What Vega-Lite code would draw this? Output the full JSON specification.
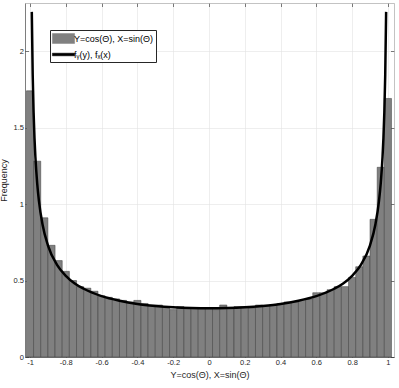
{
  "$schema": "https://vega.github.io/schema/vega-lite/v6.json",
  "width": 369,
  "height": 354,
  "autosize": {"type": "none"},
  "padding": {"left": 25, "top": 3, "right": 5, "bottom": 31},
  "background": "white",
  "config": {
    "view": {"stroke": null},
    "font": "Liberation Sans",
    "axis": {"labelFont": "Liberation Sans", "titleFont": "Liberation Sans", "labelColor": "#262626", "titleColor": "#262626", "titleFontWeight": "normal", "gridColor": "#e3e3e3", "gridWidth": 0.6, "domainColor": "#262626", "domainWidth": 0.6, "tickColor": "#262626", "tickWidth": 0.6},
    "legend": {"orient": "none", "legendX": 25, "legendY": 27, "title": null, "padding": 2, "symbolSize": 144, "symbolOffset": 5, "labelOffset": 4, "rowPadding": 3,
      "fillColor": "white", "strokeColor": "#262626", "labelFont": "Liberation Sans", "labelFontSize": 9, "labelColor": "#000000", "labelLimit": 300}
  },
  "datasets": {
    "hist": [
      {"bin_start": -1.02, "bin_end": -0.98, "frequency": 1.74},
      {"bin_start": -0.98, "bin_end": -0.94, "frequency": 1.28},
      {"bin_start": -0.94, "bin_end": -0.90, "frequency": 0.91},
      {"bin_start": -0.90, "bin_end": -0.86, "frequency": 0.73},
      {"bin_start": -0.86, "bin_end": -0.82, "frequency": 0.63},
      {"bin_start": -0.82, "bin_end": -0.78, "frequency": 0.56},
      {"bin_start": -0.78, "bin_end": -0.74, "frequency": 0.50},
      {"bin_start": -0.74, "bin_end": -0.70, "frequency": 0.46},
      {"bin_start": -0.70, "bin_end": -0.66, "frequency": 0.45},
      {"bin_start": -0.66, "bin_end": -0.62, "frequency": 0.43},
      {"bin_start": -0.62, "bin_end": -0.58, "frequency": 0.40},
      {"bin_start": -0.58, "bin_end": -0.54, "frequency": 0.39},
      {"bin_start": -0.54, "bin_end": -0.50, "frequency": 0.38},
      {"bin_start": -0.50, "bin_end": -0.46, "frequency": 0.37},
      {"bin_start": -0.46, "bin_end": -0.42, "frequency": 0.36},
      {"bin_start": -0.42, "bin_end": -0.38, "frequency": 0.37},
      {"bin_start": -0.38, "bin_end": -0.34, "frequency": 0.35},
      {"bin_start": -0.34, "bin_end": -0.30, "frequency": 0.34},
      {"bin_start": -0.30, "bin_end": -0.26, "frequency": 0.34},
      {"bin_start": -0.26, "bin_end": -0.22, "frequency": 0.33},
      {"bin_start": -0.22, "bin_end": -0.18, "frequency": 0.31},
      {"bin_start": -0.18, "bin_end": -0.14, "frequency": 0.33},
      {"bin_start": -0.14, "bin_end": -0.10, "frequency": 0.32},
      {"bin_start": -0.10, "bin_end": -0.06, "frequency": 0.32},
      {"bin_start": -0.06, "bin_end": -0.02, "frequency": 0.32},
      {"bin_start": -0.02, "bin_end": 0.02, "frequency": 0.32},
      {"bin_start": 0.02, "bin_end": 0.06, "frequency": 0.31},
      {"bin_start": 0.06, "bin_end": 0.10, "frequency": 0.34},
      {"bin_start": 0.10, "bin_end": 0.14, "frequency": 0.32},
      {"bin_start": 0.14, "bin_end": 0.18, "frequency": 0.33},
      {"bin_start": 0.18, "bin_end": 0.22, "frequency": 0.33},
      {"bin_start": 0.22, "bin_end": 0.26, "frequency": 0.32},
      {"bin_start": 0.26, "bin_end": 0.30, "frequency": 0.34},
      {"bin_start": 0.30, "bin_end": 0.34, "frequency": 0.33},
      {"bin_start": 0.34, "bin_end": 0.38, "frequency": 0.34},
      {"bin_start": 0.38, "bin_end": 0.42, "frequency": 0.35},
      {"bin_start": 0.42, "bin_end": 0.46, "frequency": 0.36},
      {"bin_start": 0.46, "bin_end": 0.50, "frequency": 0.36},
      {"bin_start": 0.50, "bin_end": 0.54, "frequency": 0.37},
      {"bin_start": 0.54, "bin_end": 0.58, "frequency": 0.38},
      {"bin_start": 0.58, "bin_end": 0.62, "frequency": 0.42},
      {"bin_start": 0.62, "bin_end": 0.66, "frequency": 0.42},
      {"bin_start": 0.66, "bin_end": 0.70, "frequency": 0.44},
      {"bin_start": 0.70, "bin_end": 0.74, "frequency": 0.46},
      {"bin_start": 0.74, "bin_end": 0.78, "frequency": 0.46},
      {"bin_start": 0.78, "bin_end": 0.82, "frequency": 0.52},
      {"bin_start": 0.82, "bin_end": 0.86, "frequency": 0.59},
      {"bin_start": 0.86, "bin_end": 0.90, "frequency": 0.66},
      {"bin_start": 0.90, "bin_end": 0.94, "frequency": 0.90},
      {"bin_start": 0.94, "bin_end": 0.98, "frequency": 1.24},
      {"bin_start": 0.98, "bin_end": 1.02, "frequency": 1.69}
    ],
    "curve": [
      {"value": -0.99, "density": 2.256},
      {"value": -0.985, "density": 1.845},
      {"value": -0.98, "density": 1.600},
      {"value": -0.975, "density": 1.432},
      {"value": -0.97, "density": 1.309},
      {"value": -0.96, "density": 1.137},
      {"value": -0.95, "density": 1.019},
      {"value": -0.93, "density": 0.866},
      {"value": -0.90, "density": 0.730},
      {"value": -0.85, "density": 0.604},
      {"value": -0.80, "density": 0.531},
      {"value": -0.75, "density": 0.481},
      {"value": -0.70, "density": 0.446},
      {"value": -0.60, "density": 0.398},
      {"value": -0.50, "density": 0.368},
      {"value": -0.40, "density": 0.347},
      {"value": -0.30, "density": 0.334},
      {"value": -0.20, "density": 0.325},
      {"value": -0.10, "density": 0.320},
      {"value": 0.00, "density": 0.318},
      {"value": 0.10, "density": 0.320},
      {"value": 0.20, "density": 0.325},
      {"value": 0.30, "density": 0.334},
      {"value": 0.40, "density": 0.347},
      {"value": 0.50, "density": 0.368},
      {"value": 0.60, "density": 0.398},
      {"value": 0.70, "density": 0.446},
      {"value": 0.75, "density": 0.481},
      {"value": 0.80, "density": 0.531},
      {"value": 0.85, "density": 0.604},
      {"value": 0.90, "density": 0.730},
      {"value": 0.93, "density": 0.866},
      {"value": 0.95, "density": 1.019},
      {"value": 0.96, "density": 1.137},
      {"value": 0.97, "density": 1.309},
      {"value": 0.975, "density": 1.432},
      {"value": 0.98, "density": 1.600},
      {"value": 0.985, "density": 1.845},
      {"value": 0.99, "density": 2.256}
    ]
  },
  "layer": [
    {
      "data": {"name": "hist"},
      "mark": {"type": "bar", "stroke": "#3c3c3c", "strokeWidth": 0.5, "opacity": 1},
      "encoding": {
        "x": {"field": "bin_start", "type": "quantitative", "scale": {"domain": [-1.028, 1.034], "nice": false, "zero": false},
          "axis": {"orient": "bottom", "title": "Y=cos(Θ), X=sin(Θ)", "titleFontSize": 9, "titlePadding": 4, "values": [-1, -0.8, -0.6, -0.4, -0.2, 0, 0.2, 0.4, 0.6, 0.8, 1], "format": ".1~f", "labelExpr": "replace(datum.label, '−', '-')", "labelFontSize": 7.5, "labelPadding": 5, "tickSize": -3.5, "grid": true, "labelFlush": false}},
        "x2": {"field": "bin_end"},
        "y": {"field": "frequency", "type": "quantitative", "stack": null, "scale": {"domain": [0, 2.314], "nice": false},
          "axis": {"orient": "left", "title": "Frequency", "titleFontSize": 9, "titlePadding": 5, "values": [0, 0.5, 1, 1.5, 2], "format": ".1~f", "labelFontSize": 7.5, "labelPadding": 5, "tickSize": -3.5, "grid": true, "labelFlush": false}},
        "y2": {"datum": 0},
        "color": {"datum": "Y=cos(Θ), X=sin(Θ)", "type": "nominal",
          "scale": {"domain": ["Y=cos(Θ), X=sin(Θ)", "fᵧ(y), fₓ(x)"], "range": ["#808080", "#000000"]},
          "legend": {
            "labelExpr": "datum.label + '    '",
            "encode": {"symbols": {"update": {
              "shape": {"signal": "indexof(datum.value, 'cos') >= 0 ? 'M-1.85,-0.83H1.85V0.83H-1.85Z' : 'M-1.85,-0.22H1.85V0.22H-1.85Z'"},
              "fill": {"signal": "indexof(datum.value, 'cos') >= 0 ? '#808080' : '#000000'"},
              "stroke": {"signal": "indexof(datum.value, 'cos') >= 0 ? '#333333' : '#000000'"},
              "strokeWidth": {"value": 0.5},
              "opacity": {"value": 1},
              "fillOpacity": {"value": 1}
            }}}}}
      }
    },
    {
      "data": {"name": "curve"},
      "mark": {"type": "line", "strokeWidth": 2.5, "interpolate": "monotone"},
      "encoding": {
        "x": {"field": "value", "type": "quantitative",
          "axis": {"orient": "top", "title": null, "labels": false, "values": [-1, -0.8, -0.6, -0.4, -0.2, 0, 0.2, 0.4, 0.6, 0.8, 1], "tickSize": -3.5, "grid": false, "domainColor": "#9a9a9a"}},
        "y": {"field": "density", "type": "quantitative",
          "axis": {"orient": "right", "title": null, "labels": false, "values": [0, 0.5, 1, 1.5, 2], "tickSize": -3.5, "grid": false, "domainColor": "#9a9a9a"}},
        "color": {"datum": "fᵧ(y), fₓ(x)", "type": "nominal",
          "legend": {
            "labelExpr": "datum.label + '    '",
            "encode": {"symbols": {"update": {
              "shape": {"signal": "indexof(datum.value, 'cos') >= 0 ? 'M-1.85,-0.83H1.85V0.83H-1.85Z' : 'M-1.85,-0.22H1.85V0.22H-1.85Z'"},
              "fill": {"signal": "indexof(datum.value, 'cos') >= 0 ? '#808080' : '#000000'"},
              "stroke": {"signal": "indexof(datum.value, 'cos') >= 0 ? '#333333' : '#000000'"},
              "strokeWidth": {"value": 0.5},
              "opacity": {"value": 1},
              "fillOpacity": {"value": 1}
            }}}}}
      }
    }
  ],
  "resolve": {"axis": {"x": "independent", "y": "independent"}}
}
